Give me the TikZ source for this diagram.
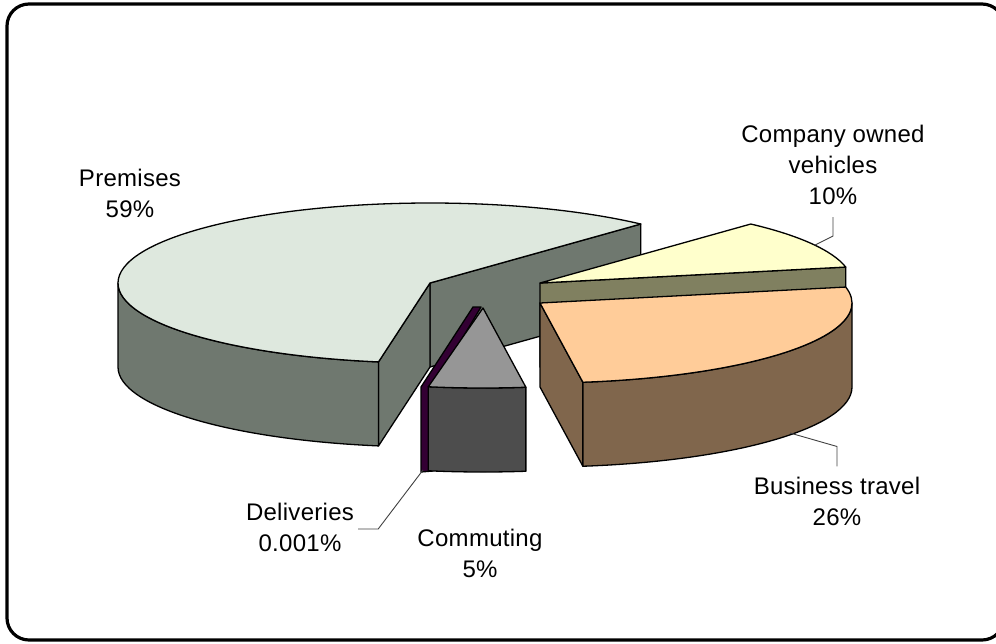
\documentclass[tikz,border=0pt]{standalone}
\usepackage{fontspec}
\setmainfont{Liberation Sans}[LetterSpace=1.2]
\usetikzlibrary{calc}
\definecolor{premTop}{RGB}{222,232,222}
\definecolor{premSide}{RGB}{111,120,111}
\definecolor{compTop}{RGB}{255,255,204}
\definecolor{compSide}{RGB}{128,128,96}
\definecolor{busTop}{RGB}{255,204,153}
\definecolor{busSide}{RGB}{128,102,76}
\definecolor{comTop}{RGB}{150,150,150}
\definecolor{comSide}{RGB}{77,77,77}
\definecolor{delCol}{RGB}{51,0,51}
\begin{document}
\begin{tikzpicture}[x=1pt,y=1pt,
  outl/.style={draw=black,line width=1.3pt,line join=round},
  lbl/.style={align=center,font=\fontsize{24}{31}\selectfont,inner sep=0pt},
  leader/.style={draw=black!75,line width=0.9pt},
  ell/.style={x radius=312,y radius=80}]
\useasboundingbox (0,0) rectangle (996,-643);
\clip (0,0) rectangle (996,-643);
\draw[line width=3.2pt,rounded corners=22pt] (7,-4) rectangle (1004,-640);

% ---------- Premises ----------
\coordinate (cP) at (430,-283);
\coordinate (cPb) at (430,-367);
\filldraw[outl,fill=premSide] (cP) -- ($(cP)+(47.5:312 and 80)$) -- ($(cPb)+(47.5:312 and 80)$) -- (cPb) -- cycle;
\filldraw[outl,fill=premSide] (cP) -- ($(cP)+(260.5:312 and 80)$) -- ($(cPb)+(260.5:312 and 80)$) -- (cPb) -- cycle;
\filldraw[outl,fill=premSide] ($(cP)+(180:312 and 80)$) arc[start angle=180,end angle=260.5,ell] -- ($(cPb)+(260.5:312 and 80)$) arc[start angle=260.5,end angle=180,ell] -- cycle;
\filldraw[outl,fill=premTop] (cP) -- ($(cP)+(47.5:312 and 80)$) arc[start angle=47.5,end angle=260.5,ell] -- cycle;

% ---------- Company owned vehicles ----------
\coordinate (cC) at (540,-283);
\coordinate (cCb) at (540,-367);
\filldraw[outl,fill=compSide] (cC) -- ($(cC)+(11.5:312 and 80)$) -- ($(cCb)+(11.5:312 and 80)$) -- (cCb) -- cycle;
\filldraw[outl,fill=compTop] (cC) -- ($(cC)+(47.5:312 and 80)$) arc[start angle=47.5,end angle=11.5,ell] -- cycle;

% ---------- Business travel ----------
\coordinate (cB) at (540,-303);
\coordinate (cBb) at (540,-387);
\filldraw[outl,fill=busSide] (cB) -- ($(cB)+(-82.1:312 and 80)$) -- ($(cBb)+(-82.1:312 and 80)$) -- (cBb) -- cycle;
\filldraw[outl,fill=busSide] ($(cB)+(0:312 and 80)$) arc[start angle=0,end angle=-82.1,ell] -- ($(cBb)+(-82.1:312 and 80)$) arc[start angle=-82.1,end angle=0,ell] -- cycle;
\filldraw[outl,fill=busTop] (cB) -- ($(cB)+(11.5:312 and 80)$) arc[start angle=11.5,end angle=-82.1,ell] -- cycle;

% ---------- Deliveries ----------
\filldraw[outl,fill=delCol] (473,-307) -- (481,-307) -- (433,-387) -- (433,-471) -- (421,-472) -- (421,-387) -- cycle;

% ---------- Commuting ----------
\coordinate (cM) at (483,-308);
\coordinate (cMb) at (483,-392);
\filldraw[outl,fill=comSide] ($(cM)+(259.9:312 and 80)$) arc[start angle=259.9,end angle=277.9,ell] -- ($(cMb)+(277.9:312 and 80)$) arc[start angle=277.9,end angle=259.9,ell] -- cycle;
\filldraw[outl,fill=comTop] (cM) -- ($(cM)+(259.9:312 and 80)$) arc[start angle=259.9,end angle=277.9,ell] -- cycle;

% ---------- Labels ----------
\node[lbl] (lprem) at (130,-193) {Premises\\59\%};
\node[lbl] (lcomp) at (833,-165) {Company owned\\vehicles\\10\%};
\node[lbl] (lbus) at (837,-501) {Business travel\\26\%};
\node[lbl] (ldel) at (300,-527) {Deliveries\\0.001\%};
\node[lbl] (lcom) at (480,-553) {Commuting\\5\%};

% ---------- Leaders ----------
\coordinate (ecomp) at (815,-245);
\coordinate (ebus) at (790,-433);
\coordinate (edel) at (423,-470);
\draw[leader] ($(lcomp.south)+(0,-12)$) -- ++(0,-19) -- (ecomp);
\draw[leader] ($(lbus.north)+(0,10)$) -- ++(0,20) -- (ebus);
\draw[leader] ($(ldel.east)+(4,-2)$) -- ++(20,0) -- (edel);
\end{tikzpicture}
\end{document}
